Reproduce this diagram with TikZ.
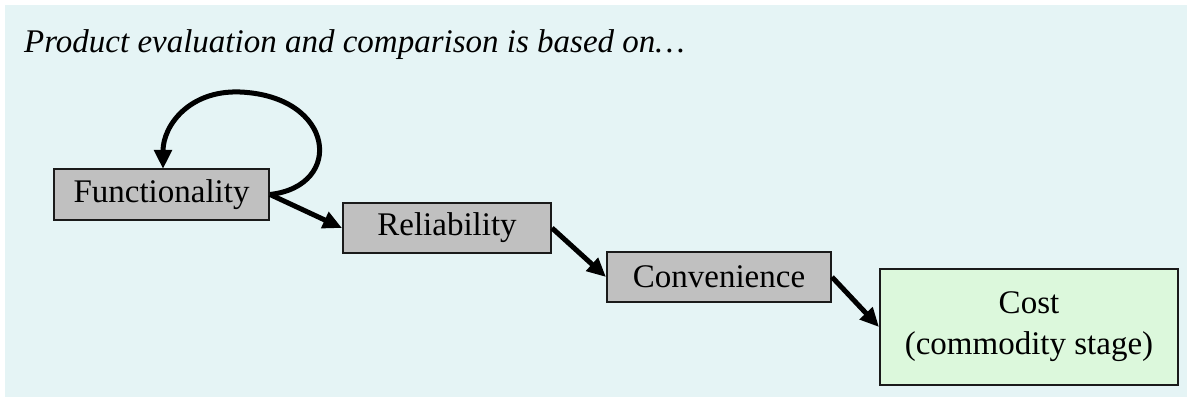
\documentclass[tikz,border=0pt]{standalone}
\usepackage{fontspec}
\setmainfont{Liberation Serif}
\usetikzlibrary{arrows.meta}
\definecolor{bgcol}{HTML}{E5F4F5}
\definecolor{boxgray}{HTML}{C0C0C0}
\definecolor{costgreen}{HTML}{DCF8DC}
\definecolor{edgecol}{HTML}{1A1A1A}
\tikzset{
  stagebox/.style={draw=edgecol, line width=2pt, fill=boxgray, inner sep=0pt,
    font=\fontsize{33}{41}\selectfont, align=center},
  flowarrow/.style={line width=5pt, -{Triangle[length=19pt,width=17pt]}}
}
\begin{document}
\begin{tikzpicture}[x=1pt,y=-1pt]
\useasboundingbox (0,0) rectangle (1187,398);
\fill[white] (0,0) rectangle (1187,398);
\fill[bgcol] (5,5) rectangle (1187,397);
\node[anchor=base west, inner sep=0pt, font=\fontsize{33}{40}\selectfont\itshape] (title) at (24,53)
  {Product evaluation and comparison is based on…};
\node[stagebox, minimum width=215pt, minimum height=51pt] (F) at (161.5,194.5) {Functionality};
\node[stagebox, minimum width=208pt, minimum height=50pt] (R) at (447,228) {Reliability};
\node[stagebox, minimum width=224pt, minimum height=50pt] (C) at (719,277) {Convenience};
\node[stagebox, fill=costgreen, minimum width=298pt, minimum height=116pt] (K) at (1029,327)
  {Cost\\(commodity stage)};
\coordinate (ftop) at (163,169);
\draw[flowarrow] (F.east) .. controls (345,186) and (335,96) .. (240,92)
  .. controls (190,90) and (163,125) .. (ftop);
\draw[flowarrow] (F.east) -- (R.west);
\draw[flowarrow] (R.east) -- (C.west);
\draw[flowarrow] (C.east) -- (K.west);
\end{tikzpicture}
\end{document}
